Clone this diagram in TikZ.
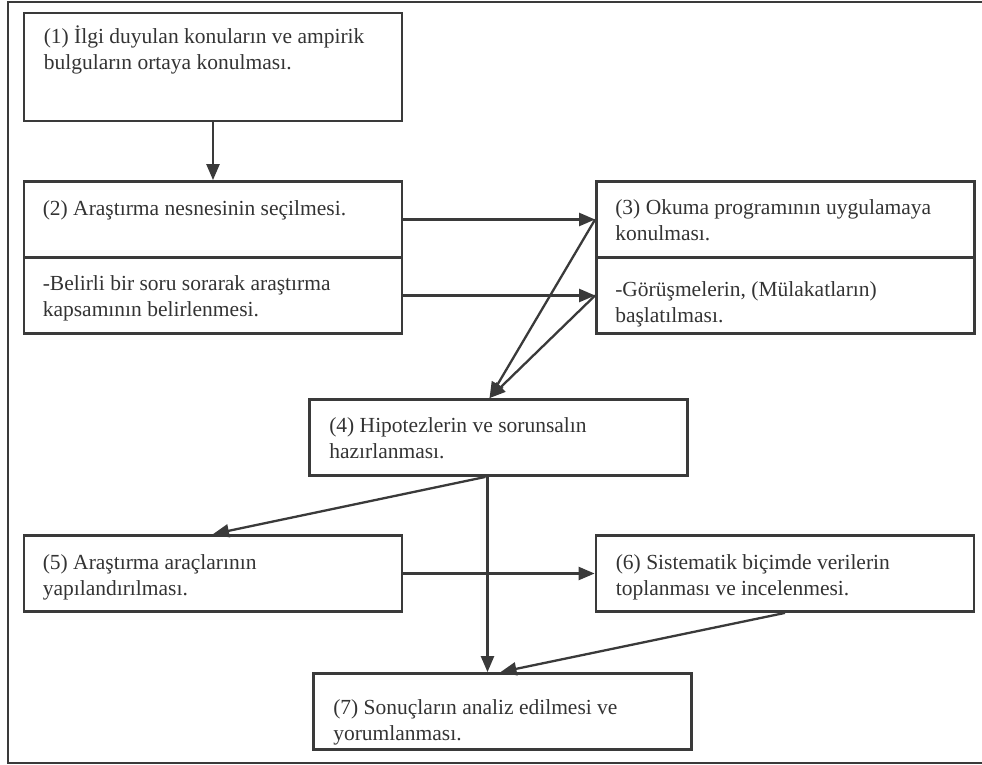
\documentclass[tikz,border=0pt]{standalone}
\usepackage{fontspec}
\setmainfont{Liberation Serif}
\usepackage{xcolor}
\usepackage{tikz}
\usetikzlibrary{arrows.meta}
\usetikzlibrary{calc}
\definecolor{inkc}{HTML}{333333}
\definecolor{linec}{HTML}{3A3A3A}
\begin{document}
\begin{tikzpicture}[x=1pt, y=-1pt, box/.style={draw=linec, line width=2.8pt, minimum width=378pt, minimum height=76pt, inner sep=0pt}, txt/.style={anchor=base west, inner sep=0pt, align=left, text=inkc, font=\fontsize{21.5}{26}\selectfont}, arr/.style={draw=linec, line width=2.3pt, -{Triangle[length=16pt,width=13pt]}}]
  \useasboundingbox (0,0) rectangle (982,765);
  \draw[linec, line width=2.2pt] (982,2) -- (8,2) -- (8,763) -- (982,763);
  \node[box, minimum height=108pt] (b1) at (213,67) {};
  \node[box] (b2a) at (213,219.5) {};
  \node[box] (b2b) at (213,295.5) {};
  \node[box] (b3a) at (785.5,219.5) {};
  \node[box] (b3b) at (785.5,295.5) {};
  \node[box] (b4) at (498.5,437.5) {};
  \node[box] (b5) at (213,573.5) {};
  \node[box] (b6) at (785,573.5) {};
  \node[box] (b7) at (502.5,711.5) {};
  \node[txt] (t1) at ([shift={(21,58)}]b1.north west) {(1) İlgi duyulan konuların ve ampirik\\bulguların ortaya konulması.};
  \node[txt] (t2a) at ([shift={(20,35)}]b2a.north west) {(2) Araştırma nesnesinin seçilmesi.};
  \node[txt] (t2b) at ([shift={(20,60)}]b2b.north west) {-Belirli bir soru sorarak araştırma\\kapsamının belirlenmesi.};
  \node[txt] (t3a) at ([shift={(20,60)}]b3a.north west) {(3) Okuma programının uygulamaya\\konulması.};
  \node[txt] (t3b) at ([shift={(20,66)}]b3b.north west) {-Görüşmelerin, (Mülakatların)\\başlatılması.};
  \node[txt] (t4) at ([shift={(21,60)}]b4.north west) {(4) Hipotezlerin ve sorunsalın\\hazırlanması.};
  \node[txt] (t5) at ([shift={(20,61)}]b5.north west) {(5) Araştırma araçlarının\\yapılandırılması.};
  \node[txt] (t6) at ([shift={(21,61)}]b6.north west) {(6) Sistematik biçimde verilerin\\toplanması ve incelenmesi.};
  \node[txt] (t7) at ([shift={(21,68)}]b7.north west) {(7) Sonuçların analiz edilmesi ve\\yorumlanması.};
  \draw[arr] (b1.south) -- (b2a.north);
  \draw[arr] (b2a.east) -- (b3a.west);
  \draw[arr] (b2b.east) -- (b3b.west);
  \draw[arr] (b3a.west) -- ([xshift=-9pt]b4.north);
  \draw[arr] (b3b.west) -- ([xshift=-9pt]b4.north);
  \draw[arr] ([xshift=-13pt]b4.south) -- (b5.north);
  \draw[arr] ([xshift=-11pt]b4.south) -- ([xshift=-11pt]b4.south |- b7.north);
  \draw[arr] (b5.east) -- (b6.west);
  \draw[arr] (b6.south) -- ([xshift=-2pt]b7.north);
\end{tikzpicture}
\end{document}
